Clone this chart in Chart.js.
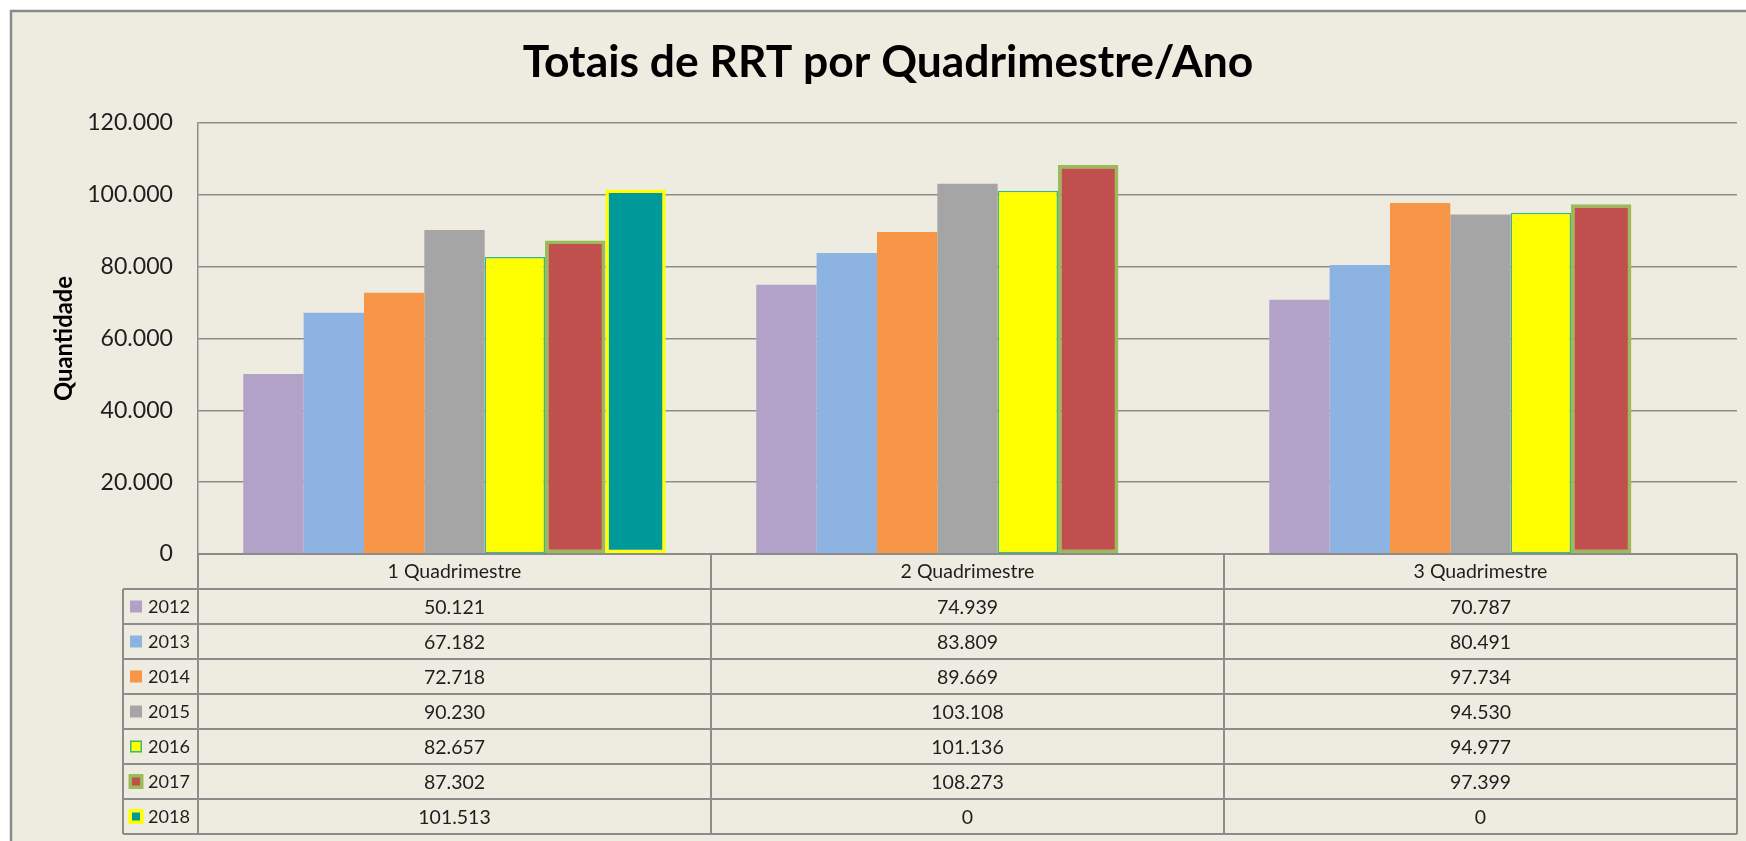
<!DOCTYPE html>
<html>
<head>
<meta charset="utf-8">
<script src="https://cdn.jsdelivr.net/npm/chart.js@4/dist/chart.umd.min.js"></script>
<style>
  html, body { margin: 0; padding: 0; background: #ffffff; }
  canvas { display: block; }
</style>
</head>
<body>
<canvas id="c" width="1746" height="841"></canvas>
<script>
// ---------------- DATA ----------------
const categories = ['1 Quadrimestre', '2 Quadrimestre', '3 Quadrimestre'];
const years = ['2012', '2013', '2014', '2015', '2016', '2017', '2018'];
const v2012 = [50121, 74939, 70787];
const v2013 = [67182, 83809, 80491];
const v2014 = [72718, 89669, 97734];
const v2015 = [90230, 103108, 94530];
const v2016 = [82657, 101136, 94977];
const v2017 = [87302, 108273, 97399];
const v2018 = [101513, 0, 0];
const yTicks = [0, 20000, 40000, 60000, 80000, 100000, 120000];
const titleText = 'Totais de RRT por Quadrimestre/Ano';
const yTitleText = 'Quantidade';

// ---------------- STYLE ----------------
const seriesValues = [v2012, v2013, v2014, v2015, v2016, v2017, v2018];
const fills   = ['#B2A2C7', '#8DB3E2', '#F79646', '#A5A5A5', '#FFFF00', '#C0504D', '#009999'];
const strokes = ['#B2A2C7', '#8DB3E2', '#F79646', '#A5A5A5', '#3CB878', '#9BBB59', '#FFFF00'];
const strokeW = [0, 0, 0, 0, 1.5, 3.5, 3.5];
const FAM = 'Lato, "Open Sans", sans-serif';
const BG = '#EEECE1';
const LINE = '#8c8c8c';
const TEXT = '#1e1e1e';

function fit(text, weight, target) {
  const c = document.createElement('canvas').getContext('2d');
  c.font = weight + ' 100px ' + FAM;
  return Math.round(100 * target / c.measureText(text).width * 10) / 10;
}
const fmt = n => String(n).replace(/\B(?=(\d{3})+(?!\d))/g, '.');

const titleSize = fit(titleText, 'bold', 730);
const tickSize  = fit('120.000', 'normal', 86);
const yTitleSize = fit(yTitleText, 'bold', 125);
const catSize   = fit('1 Quadrimestre', 'normal', 134);
const valSize   = fit('50.121', 'normal', 61);
const legSize   = fit('2012', 'normal', 42);

// background + frame + title
const framePlugin = {
  id: 'frame',
  beforeDraw(chart) {
    const ctx = chart.ctx;
    ctx.save();
    ctx.fillStyle = '#ffffff';
    ctx.fillRect(0, 0, chart.width, chart.height);
    ctx.fillStyle = BG;
    ctx.fillRect(11, 11, chart.width, chart.height);
    ctx.strokeStyle = '#8a8a8a';
    ctx.lineWidth = 2.5;
    ctx.beginPath();
    ctx.moveTo(11, chart.height + 5);
    ctx.lineTo(11, 11);
    ctx.lineTo(chart.width + 5, 11);
    ctx.stroke();
    // chart title, centred over the chart object (which extends beyond the view)
    ctx.fillStyle = '#000000';
    ctx.font = 'bold ' + titleSize + 'px ' + FAM;
    ctx.textAlign = 'center';
    ctx.textBaseline = 'middle';
    ctx.fillText(titleText, 888, 63);
    ctx.restore();
  }
};

// data table under the plot
const tablePlugin = {
  id: 'dataTable',
  afterDraw(chart) {
    const ctx = chart.ctx;
    const a = chart.chartArea;
    const x = chart.scales.x;
    const nRows = years.length + 1;
    const rowH = (x.bottom - x.top) / nRows;
    const top = a.bottom;
    const bottom = top + nRows * rowH;
    const legLeft = a.left - 75;
    const line = (x1, y1, x2, y2) => { ctx.beginPath(); ctx.moveTo(x1, y1); ctx.lineTo(x2, y2); ctx.stroke(); };
    ctx.save();
    ctx.strokeStyle = LINE;
    ctx.lineWidth = 2;
    line(a.left, top, a.right, top);
    for (let i = 1; i <= nRows; i++) line(legLeft, top + i * rowH, a.right, top + i * rowH);
    line(legLeft, top + rowH, legLeft, bottom);
    const bounds = [a.left];
    for (let i = 0; i < categories.length - 1; i++) bounds.push((x.getPixelForValue(i) + x.getPixelForValue(i + 1)) / 2);
    bounds.push(a.right);
    bounds.forEach(b => line(b, top, b, bottom));

    ctx.textBaseline = 'middle';
    for (let r = 0; r < years.length; r++) {
      const cy = top + (r + 1.5) * rowH;
      const kx = legLeft + 7, ks = 12;
      if (strokeW[r] >= 3) {
        ctx.fillStyle = strokes[r];
        ctx.fillRect(kx - 1.5, cy - ks / 2 - 1.5, ks + 3, ks + 3);
        ctx.fillStyle = fills[r];
        ctx.fillRect(kx + 2, cy - ks / 2 + 2, ks - 4, ks - 4);
      } else {
        ctx.fillStyle = fills[r];
        ctx.fillRect(kx, cy - ks / 2, ks, ks);
        if (strokeW[r] > 0) {
          ctx.strokeStyle = strokes[r];
          ctx.lineWidth = 1.5;
          ctx.strokeRect(kx + 0.75, cy - ks / 2 + 0.75, ks - 1.5, ks - 1.5);
        }
      }
      ctx.fillStyle = TEXT;
      ctx.textAlign = 'left';
      ctx.font = legSize + 'px ' + FAM;
      ctx.fillText(years[r], legLeft + 25, cy + 1);
      ctx.textAlign = 'center';
      ctx.font = valSize + 'px ' + FAM;
      seriesValues[r].forEach((v, i) => ctx.fillText(fmt(v), x.getPixelForValue(i), cy + 1));
    }
    ctx.restore();
  }
};

const datasets = years.map((y, i) => ({
  label: y,
  data: seriesValues[i],
  backgroundColor: fills[i],
  borderColor: strokes[i],
  borderWidth: ctx => (ctx.raw ? strokeW[i] : 0),
  borderSkipped: false
}));

new Chart(document.getElementById('c'), {
  type: 'bar',
  data: { labels: categories, datasets },
  plugins: [framePlugin, tablePlugin],
  options: {
    responsive: false,
    animation: false,
    devicePixelRatio: 1,
    categoryPercentage: 7 / 8.5,
    barPercentage: 1,
    layout: { padding: { left: 11, top: 123, right: 9, bottom: 7 } },
    plugins: {
      legend: { display: false },
      tooltip: { enabled: false },
      title: { display: false }
    },
    scales: {
      x: {
        grid: { display: false, drawTicks: false },
        border: { display: false },
        ticks: { color: TEXT, font: { family: FAM, size: catSize }, padding: 6, maxRotation: 0 },
        afterFit: s => { s.height = 280; }
      },
      y: {
        min: yTicks[0],
        max: yTicks[yTicks.length - 1],
        afterBuildTicks: s => { s.ticks = yTicks.map(v => ({ value: v })); },
        grid: { color: LINE, lineWidth: 1.5, drawTicks: false },
        border: { display: true, color: LINE, width: 1.5 },
        ticks: { color: TEXT, font: { family: FAM, size: tickSize }, padding: 25, callback: v => fmt(v) },
        title: {
          display: true,
          text: yTitleText,
          color: '#000000',
          font: { family: FAM, size: yTitleSize, weight: 'bold', lineHeight: 1.2 },
          padding: { top: 64 - 11 - yTitleSize * 0.6, bottom: 0 }
        },
        afterFit: s => { s.width = 187; }
      }
    }
  }
});
</script>
</body>
</html>
